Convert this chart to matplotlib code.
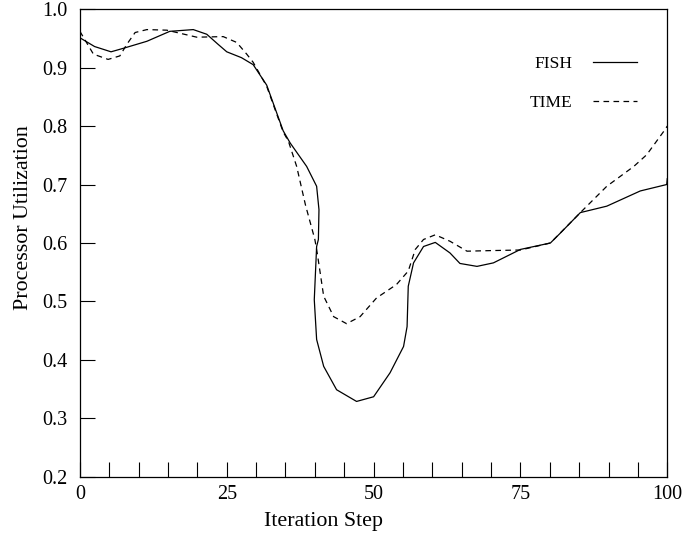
import matplotlib
matplotlib.use('Agg')
import matplotlib.pyplot as plt
from matplotlib.ticker import MultipleLocator

plt.rcParams['font.family'] = ['Liberation Serif', 'DejaVu Serif']

# values
fish_x = [0, 2.5, 5.3, 7.4, 11.4, 15.3, 19.3, 21.6, 23.5, 25, 27.5, 29.5, 31.8,
          34.6, 35.8, 38.6, 40.3, 40.7, 40.6, 40.3, 39.9, 40.3, 41.5, 43.7,
          47.1, 50, 52.8, 55.1, 55.7, 55.9, 56.8, 58.5, 60.5, 63, 64.7, 67.6,
          70.4, 75, 80.1, 81.8, 85.2, 89.7, 95.4, 99.9, 100]
fish_y = [0.951, 0.936, 0.927, 0.933, 0.945, 0.962, 0.965, 0.957, 0.940, 0.927,
          0.917, 0.905, 0.870, 0.792, 0.771, 0.731, 0.697, 0.657, 0.606, 0.594,
          0.503, 0.435, 0.389, 0.349, 0.329, 0.337, 0.378, 0.423, 0.457, 0.526,
          0.566, 0.594, 0.601, 0.583, 0.565, 0.560, 0.566, 0.589, 0.600, 0.617,
          0.652, 0.663, 0.689, 0.700, 0.71]

time_x = [0, 2.3, 4.8, 6.8, 8, 9.4, 11.4, 14.8, 19.9, 24.4, 26.7, 28.4, 29.5,
          31.8, 34.6, 35.5, 36.9, 38.4, 40.0, 40.4, 41.5, 43.2, 45.4, 47.7,
          50.5, 53.9, 55.9, 57.1, 58.5, 60.5, 63, 65.9, 70, 75, 80.1, 85.7,
          89.7, 94.3, 96.5, 99.4, 100]
time_y = [0.962, 0.923, 0.914, 0.920, 0.940, 0.960, 0.965, 0.964, 0.952, 0.953,
          0.943, 0.923, 0.909, 0.868, 0.790, 0.774, 0.731, 0.665, 0.606, 0.583,
          0.509, 0.474, 0.462, 0.474, 0.506, 0.529, 0.552, 0.589, 0.606, 0.614,
          0.603, 0.586, 0.587, 0.588, 0.600, 0.657, 0.697, 0.731, 0.751, 0.791,
          0.80]

fig = plt.figure(figsize=(6.83, 5.37), dpi=100)
ax = fig.add_axes([0.117, 0.112, 0.860, 0.871])

ax.plot(fish_x, fish_y, color='black', lw=0.9, label='FISH')
ax.plot(time_x, time_y, color='black', lw=0.9, dashes=(4.5, 3.5), label='TIME')

ax.set_xlim(0, 100)
ax.set_ylim(0.2, 1.0)
ax.xaxis.set_major_locator(MultipleLocator(25))
ax.xaxis.set_minor_locator(MultipleLocator(5))
ax.yaxis.set_major_locator(MultipleLocator(0.1))
ax.yaxis.set_major_formatter(matplotlib.ticker.FormatStrFormatter('%.1f'))
ax.tick_params(axis='x', which='both', direction='in', length=10.5, width=0.8,
               labelsize=14.5, pad=6)
ax.tick_params(axis='y', direction='in', length=11, width=0.8, labelsize=14.5, pad=9)
for s in ax.spines.values():
    s.set_linewidth(0.9)

ax.set_xlabel('Iteration Step', fontsize=15.8)
ax.set_ylabel('Processor Utilization', fontsize=15.8)
ax.xaxis.set_label_coords(0.415, -0.075)
ax.yaxis.set_label_coords(-0.080, 0.554)

ax.legend(loc='upper right', bbox_to_anchor=(0.96, 0.915), frameon=False,
          markerfirst=False, fontsize=12.5, handlelength=2.5,
          handletextpad=1.2, labelspacing=1.3, borderaxespad=0)

fig.savefig('out.png', dpi=100)
